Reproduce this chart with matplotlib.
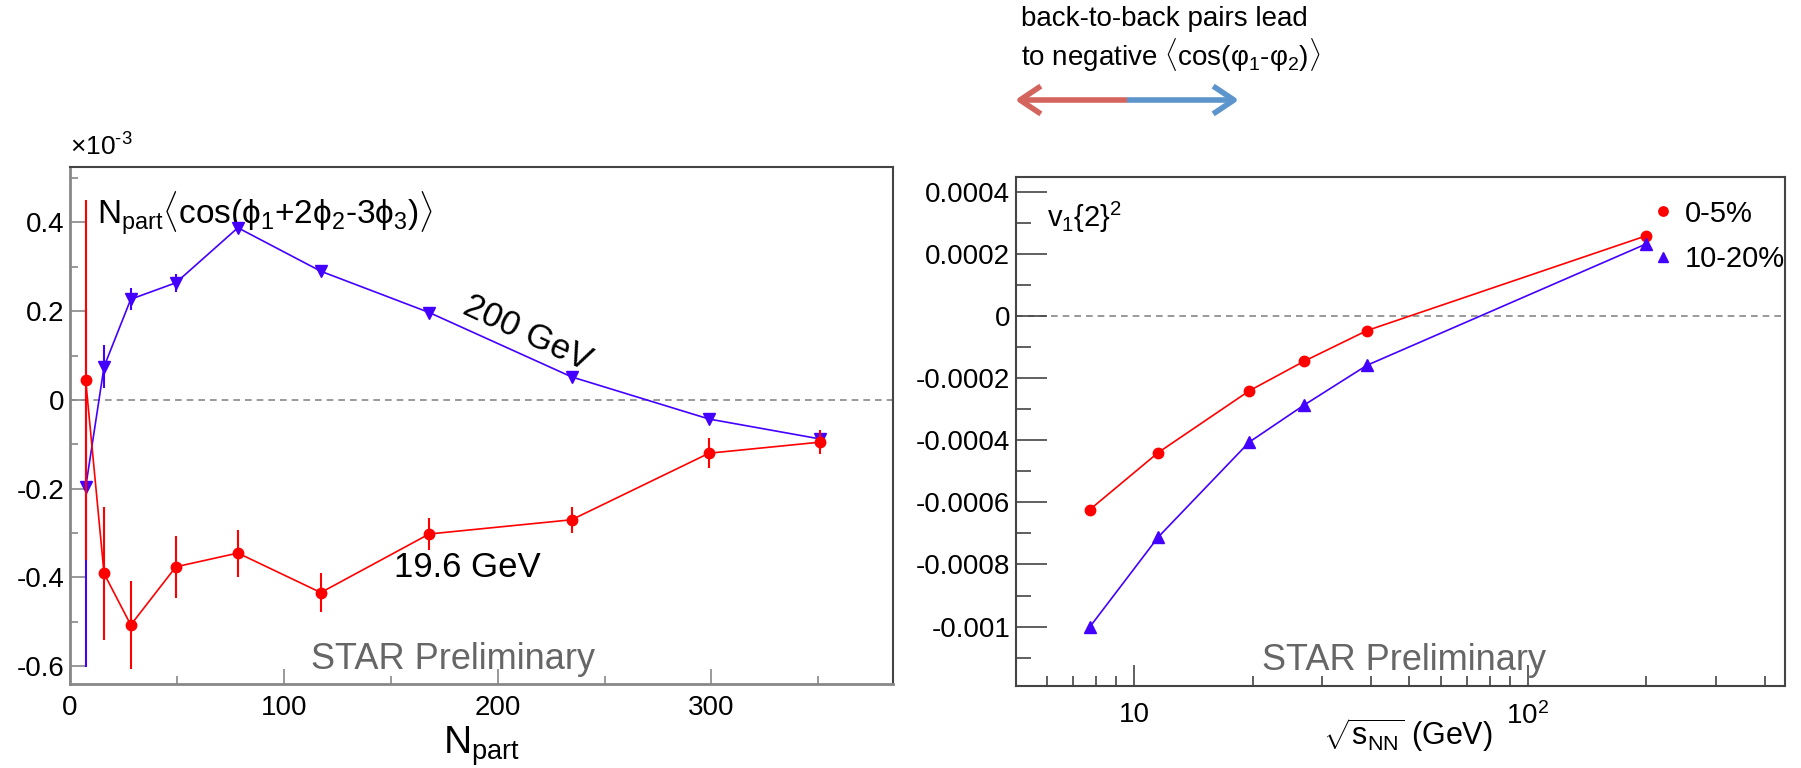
import matplotlib
matplotlib.use("Agg")
import matplotlib.pyplot as plt
import numpy as np
from matplotlib.ticker import MultipleLocator, FuncFormatter, FixedLocator, NullFormatter
from matplotlib.patches import FancyArrowPatch

plt.rcParams['font.family'] = ['Liberation Sans', 'DejaVu Sans']
plt.rcParams['mathtext.fontset'] = 'custom'
plt.rcParams['mathtext.rm'] = 'Liberation Sans'
plt.rcParams['mathtext.it'] = 'Liberation Sans:italic'
plt.rcParams['axes.unicode_minus'] = False

# Left panel: Npart * <cos(phi1+2phi2-3phi3)>, in units of 1e-3
npart = [7.3, 15.9, 28.4, 49.5, 78.5, 117.3, 168.0, 234.6, 298.9, 351.0]
c123_19 = [0.045, -0.391, -0.507, -0.376, -0.345, -0.434, -0.302, -0.270, -0.120, -0.095]
err_19 = [0.405, 0.150, 0.100, 0.070, 0.053, 0.044, 0.036, 0.029, 0.034, 0.027]
c123_200 = [-0.197, 0.075, 0.227, 0.264, 0.388, 0.290, 0.197, 0.052, -0.043, -0.088]
err_200 = [0.405, 0.048, 0.025, 0.020, 0.008, 0.006, 0.005, 0.005, 0.006, 0.008]

# Right panel: v1{2}^2 vs beam energy
energy = [7.7, 11.5, 19.6, 27, 39, 200]
v12_0_5 = [-0.000624, -0.000440, -0.000241, -0.000146, -0.0000473, 0.000258]
v12_10_20 = [-0.001002, -0.000712, -0.000406, -0.000287, -0.000159, 0.000232]

red = '#ff0000'
blue = '#4400ff'
frame = '#444444'

fig = plt.figure(figsize=(18.01, 7.68), dpi=100)

# ---------------- left panel
ax1 = fig.add_axes([0.0389, 0.1094, 0.457, 0.6732])
ax1.errorbar(npart, c123_200, yerr=err_200, color=blue, marker='v', ms=8, lw=1.2,
             elinewidth=1.5, capsize=0, zorder=3)
ax1.errorbar(npart, c123_19, yerr=err_19, color=red, marker='o', ms=7.5, lw=1.2,
             elinewidth=1.5, capsize=0, zorder=4)
ax1.axhline(0, color='#888888', ls=(0, (4, 3)), lw=1.2, zorder=1)
ax1.set_xlim(0, 385)
ax1.set_ylim(-0.64, 0.525)
ax1.yaxis.set_major_locator(MultipleLocator(0.2))
ax1.yaxis.set_minor_locator(MultipleLocator(0.1))
ax1.xaxis.set_major_locator(MultipleLocator(100))
ax1.xaxis.set_minor_locator(MultipleLocator(50))
ax1.yaxis.set_major_formatter(FuncFormatter(lambda v, p: '%g' % round(v, 6)))
ax1.tick_params(which='both', direction='in', colors='#888888', labelcolor='black',
                labelsize=20, top=False, right=False, width=1.2)
ax1.tick_params(which='major', length=11, pad=4)
ax1.tick_params(which='minor', length=6)
ax1.tick_params(axis='x', pad=8)
for s in ['left', 'bottom']:
    ax1.spines[s].set_color('#888888')
    ax1.spines[s].set_linewidth(2)
for s in ['top', 'right']:
    ax1.spines[s].set_color(frame)
    ax1.spines[s].set_linewidth(1.5)
ax1.set_xlabel(r'N$_{\mathrm{part}}$', fontsize=28, labelpad=2)
ax1.text(0.0, 1.012, r'$\times$10$^{\text{-3}}$', transform=ax1.transAxes, fontsize=19,
         ha='left', va='bottom')
ax1.text(0.033, 0.955,
         r'N$_{\mathrm{part}}\langle$cos($\mathrm{\phi}_{1}$+2$\mathrm{\phi}_{2}$'
         r'-3$\mathrm{\phi}_{3}$)$\rangle$',
         transform=ax1.transAxes, fontsize=24, ha='left', va='top')
ax1.text(214, 0.150, '200 GeV', fontsize=25, rotation=-25, ha='center', va='center',
         rotation_mode='anchor')
ax1.text(186, -0.378, '19.6 GeV', fontsize=25, ha='center', va='center')
ax1.text(179, -0.606, 'STAR Preliminary', fontsize=26, color='#666666',
         ha='center', va='baseline')

# ---------------- right panel
ax2 = fig.add_axes([0.564, 0.1072, 0.4272, 0.6628])
ax2.plot(energy, v12_0_5, color=red, marker='o', ms=7.5, lw=1.2, label='0-5%')
ax2.plot(energy, v12_10_20, color=blue, marker='^', ms=8, lw=1.2, label='10-20%')
ax2.axhline(0, color='#888888', ls=(0, (4, 3)), lw=1.2, zorder=1)
ax2.set_xscale('log')
ax2.set_xlim(5, 450)
ax2.set_ylim(-0.00119, 0.000448)
ax2.yaxis.set_major_locator(MultipleLocator(0.0002))
ax2.yaxis.set_minor_locator(MultipleLocator(0.0001))
ax2.yaxis.set_major_formatter(FuncFormatter(lambda v, p: '%g' % round(v, 8)))
ax2.xaxis.set_major_locator(FixedLocator([10, 100]))
ax2.xaxis.set_major_formatter(FuncFormatter(lambda v, p: '10' if v < 50 else r'10$^{2}$'))
ax2.xaxis.set_minor_locator(FixedLocator([6, 7, 8, 9, 20, 30, 40, 50, 60, 70, 80, 90,
                                          200, 300, 400]))
ax2.xaxis.set_minor_formatter(NullFormatter())
ax2.tick_params(which='both', direction='in', colors=frame, labelcolor='black',
                labelsize=20, top=False, right=False, width=1.2)
ax2.tick_params(axis='y', which='major', length=22, pad=4)
ax2.tick_params(axis='y', which='minor', length=11)
ax2.tick_params(axis='x', which='major', length=15, pad=12)
ax2.tick_params(axis='x', which='minor', length=7)
for s in ax2.spines.values():
    s.set_color(frame)
    s.set_linewidth(1.5)
ax2.set_xlabel(r'$\sqrt{\mathrm{s}_{\mathrm{NN}}}$ (GeV)', fontsize=22)
ax2.xaxis.set_label_coords(0.51, -0.06, transform=ax2.transAxes)
ax2.xaxis.label.set_va('top')
ax2.text(0.04, 0.955, r'v$_{1}${2}$^{2}$', transform=ax2.transAxes, fontsize=21,
         ha='left', va='top')
ax2.text(0.505, 0.03, 'STAR Preliminary', transform=ax2.transAxes, fontsize=26,
         color='#666666', ha='center', va='baseline')
ax2.legend(loc='upper right', bbox_to_anchor=(1.0, 0.955), frameon=False, fontsize=21,
           handlelength=0.8, handletextpad=0.35, labelspacing=0.6, borderaxespad=0,
           borderpad=0, markerscale=0.9)
for h in ax2.get_legend().get_lines():
    h.set_linestyle('none')

# ---------------- annotation above
fig.text(1021 / 1801, 1 - 6 / 768,
         'back-to-back pairs lead\nto negative ' +
         r'$\langle$cos($\mathrm{\varphi}_{1}$-$\mathrm{\varphi}_{2}$)$\rangle$',
         fontsize=20, ha='left', va='top', linespacing=1.15)
ymid = 1 - 100 / 768
xl, xm, xr = 1015 / 1801, 1127 / 1801, 1239 / 1801
for x_end, col in [(xl, '#d4655e'), (xr, '#5b95cc')]:
    fig.add_artist(FancyArrowPatch((xm, ymid), (x_end, ymid), transform=fig.transFigure,
                                   arrowstyle='->,head_length=0.75,head_width=0.5',
                                   mutation_scale=20, color=col, lw=4,
                                   shrinkA=0, shrinkB=0, capstyle='butt'))

fig.savefig('out.png', dpi=100)
